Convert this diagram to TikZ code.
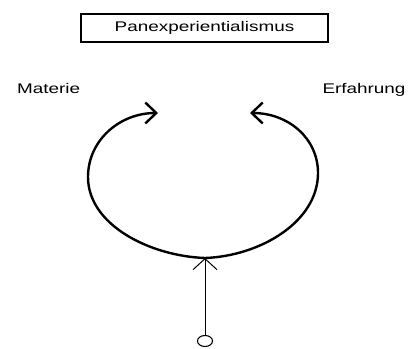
\documentclass[tikz,border=0pt]{standalone}
\usepackage{fontspec}
\newfontfamily\diagfont[FakeStretch=1.35]{Liberation Sans}
\usetikzlibrary{arrows.meta,shapes.geometric}

\tikzset{
    label/.style={font=\diagfont\fontsize{14}{16}\selectfont, anchor=base, inner sep=0pt},
    loop/.style={line width=2.4pt, -{Straight Barb[length=11pt, width=21pt, line width=2.4pt]}},
}

\begin{document}
\begin{tikzpicture}[x=1pt, y=-1pt]
    \useasboundingbox (0,0) rectangle (411,348);

    \node[label, anchor=center, draw, line width=1.3pt, minimum width=247pt, minimum height=28pt] (title) at (204.5,28) {Panexperientialismus};
    \node[label] (materie) at (48.7,93) {Materie};
    \node[label] (erfahrung) at (364,93) {Erfahrung};

    \coordinate (bottom) at (205,258);
    \coordinate (ltip) at (158,113);
    \coordinate (rtip) at (250,113);
    \node[draw, ellipse, line width=1.1pt, minimum width=15pt, minimum height=11pt, inner sep=0pt] (base) at (205,341) {};

    % the loop
    \draw[loop] (bottom) .. controls (150,256) and (88,225) .. (88,177)
        .. controls (88,140) and (120,113) .. (ltip);
    \draw[loop] (bottom) .. controls (260,256) and (318,222) .. (318,173)
        .. controls (318,138) and (288,113) .. (rtip);

    \draw[line width=1pt, -{Straight Barb[length=11pt, width=24pt, line width=1pt]}] (base) -- (bottom);
\end{tikzpicture}
\end{document}
